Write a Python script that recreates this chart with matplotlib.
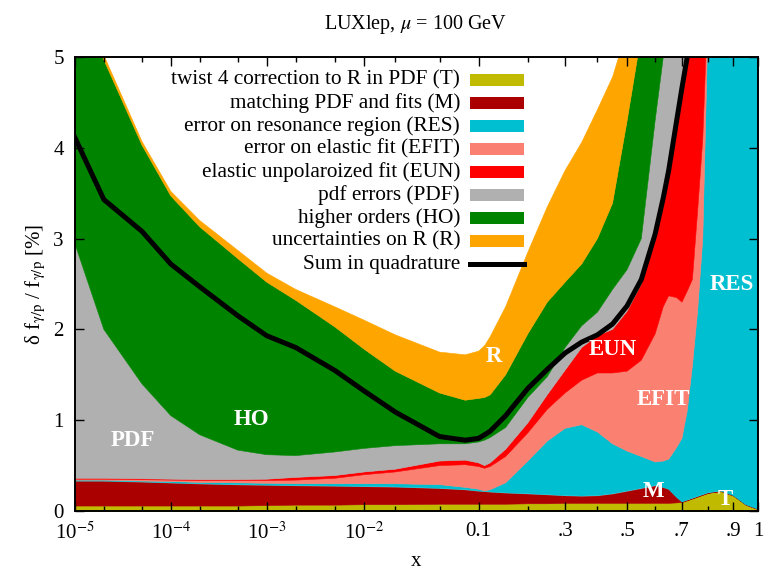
import numpy as np
import matplotlib
matplotlib.use("Agg")
import matplotlib.pyplot as plt
from matplotlib.patches import Rectangle
from matplotlib.lines import Line2D

plt.rcParams['font.family'] = ['Liberation Serif', 'DejaVu Serif']
plt.rcParams['mathtext.fontset'] = 'stix'

# x grid (log at small x, stretched towards x -> 1)
x = [1e-5, 2e-5, 5e-5, 1e-4, 2e-4, 5e-4, 1e-3, 2e-3, 5e-3, 1e-2, 2e-2, 5e-2,
     0.08, 0.1, 0.11, 0.12, 0.15, 0.2, 0.25, 0.3, 0.35, 0.4, 0.45, 0.5, 0.55,
     0.6, 0.63, 0.65, 0.68, 0.7, 0.72, 0.74, 0.76, 0.78, 0.8, 0.85, 0.9, 0.95, 1.0]

# individual contributions [%], stacked from bottom to top
err_T = [0.06, 0.06, 0.06, 0.06, 0.06, 0.06, 0.065, 0.07, 0.07, 0.075, 0.075, 0.08,
         0.08, 0.08, 0.08, 0.08, 0.08, 0.085, 0.085, 0.09, 0.09, 0.09, 0.09, 0.09, 0.09,
         0.09, 0.09, 0.09, 0.095, 0.10, 0.12, 0.14, 0.16, 0.18, 0.20, 0.22, 0.17, 0.07, 0.02]
err_M = [0.27, 0.27, 0.26, 0.25, 0.24, 0.23, 0.22, 0.21, 0.205, 0.195, 0.19, 0.17,
         0.155, 0.14, 0.135, 0.13, 0.12, 0.105, 0.095, 0.08, 0.075, 0.08, 0.10, 0.13, 0.16,
         0.19, 0.17, 0.15, 0.055, 0.0, 0.0, 0.0, 0.0, 0.0, 0.0, 0.0, 0.0, 0.0, 0.0]
err_RES = [0.01, 0.01, 0.01, 0.015, 0.015, 0.02, 0.02, 0.02, 0.025, 0.03, 0.035, 0.04,
           0.025, 0.02, 0.005, 0.025, 0.11, 0.36, 0.59, 0.74, 0.785, 0.70, 0.55, 0.44, 0.35,
           0.26, 0.29, 0.33, 0.55, 0.70, 0.98, 1.46, 2.04, 2.82, 5.10, 6.28, 7.33, 7.93, 8.48]
err_EFIT = [0.01, 0.01, 0.015, 0.015, 0.02, 0.025, 0.03, 0.04, 0.06, 0.10, 0.13, 0.21,
            0.25, 0.25, 0.25, 0.255, 0.29, 0.31, 0.35, 0.39, 0.49, 0.65, 0.78, 0.88, 1.06,
            1.41, 1.70, 1.80, 1.65, 1.50, 1.32, 0.95, 1.10, 1.10, 0.30, 0.30, 0.30, 0.30, 0.30]
err_EUN = [0.01, 0.01, 0.01, 0.01, 0.01, 0.01, 0.015, 0.03, 0.03, 0.03, 0.03, 0.05,
           0.05, 0.04, 0.03, 0.04, 0.08, 0.11, 0.16, 0.25, 0.36, 0.41, 0.48, 0.66, 0.84,
           1.05, 1.15, 1.33, 1.90, 2.30, 2.58, 2.75, 2.30, 1.80, 0.60, 0.40, 0.40, 0.40, 0.40]
err_PDF = [2.58, 1.64, 1.045, 0.70, 0.495, 0.325, 0.27, 0.24, 0.26, 0.26, 0.26, 0.19,
           0.18, 0.23, 0.28, 0.28, 0.24, 0.28, 0.20, 0.25, 0.24, 0.26, 0.44, 0.46, 0.50,
           1.30, 1.60, 1.60, 1.35, 1.30, 1.20, 1.20, 1.20, 1.20, 1.20, 1.20, 1.20, 1.20, 1.20]
err_HO = [2.66, 2.97, 2.63, 2.42, 2.29, 2.11, 1.90, 1.71, 1.38, 1.09, 0.82, 0.56,
          0.48, 0.48, 0.47, 0.47, 0.58, 0.70, 0.82, 0.72, 0.68, 0.81, 0.95, 1.64, 2.25,
          1.60, 1.20, 1.10, 1.20, 1.10, 1.10, 1.10, 1.10, 1.10, 1.10, 1.10, 1.10, 1.10, 1.10]
err_R = [0.20, 0.05, 0.04, 0.05, 0.07, 0.09, 0.10, 0.12, 0.22, 0.32, 0.40, 0.45,
         0.50, 0.52, 0.57, 0.64, 0.75, 0.90, 1.05, 1.23, 1.34, 1.42, 1.39, 1.00, 0.75,
         0.90, 0.80, 0.80, 0.80, 0.80, 0.70, 0.70, 0.70, 0.70, 0.70, 0.70, 0.70, 0.70, 0.70]
quad_sum = [4.11, 3.43, 3.08, 2.72, 2.47, 2.15, 1.93, 1.80, 1.55, 1.32, 1.09, 0.82,
            0.78, 0.80, 0.84, 0.88, 1.05, 1.35, 1.56, 1.74, 1.86, 1.94, 2.06, 2.26, 2.55,
            3.05, 3.45, 3.75, 4.30, 4.66, 5.00, 5.30, 5.60, 5.90, 6.20, 7.00, 8.00, 8.50, 9.00]

bands = [err_T, err_M, err_RES, err_EFIT, err_EUN, err_PDF, err_HO, err_R]
names = ['twist 4 correction to R in PDF (T)', 'matching PDF and fits (M)',
         'error on resonance region (RES)', 'error on elastic fit (EFIT)',
         'elastic unpolaroized fit (EUN)', 'pdf errors (PDF)', 'higher orders (HO)',
         'uncertainties on R (R)']
colors = ['#c0bb00', '#aa0000', '#00bfd0', '#fa8072', '#ff0000', '#b0b0b0', '#008400', '#ffa500']

# band labels: text, x, y
tags = [('PDF', 4.0e-5, 0.78), ('HO', 6.9e-4, 1.01), ('R', 0.127, 1.70),
        ('EUN', 0.45, 1.78), ('EFIT', 0.63, 1.23), ('RES', 0.895, 2.50),
        ('M', 0.595, 0.21), ('T', 0.87, 0.13)]

K = 2.13
def fwd(v):
    v = np.asarray(v, dtype=float)
    with np.errstate(divide='ignore', invalid='ignore'):
        return np.log10(v) + K * v

_grid = np.logspace(-7, 0.2, 6000)
_fgrid = fwd(_grid)
def inv(u):
    return np.interp(u, _fgrid, _grid)

W, H = 766, 579
fig = plt.figure(figsize=(W / 100, H / 100), dpi=100)
ax = fig.add_axes([75 / W, 1 - 511 / H, (758 - 75) / W, (511 - 57) / H])
ax.set_xscale('function', functions=(fwd, inv))

ax.stackplot(x, *bands, colors=colors, linewidth=0.4, edgecolor='face')
ax.plot(x, quad_sum, color='black', lw=3.6, solid_joinstyle='round')

ax.set_xlim(1e-5, 1)
ax.set_ylim(0, 5)

major = [1e-5, 1e-4, 1e-3, 1e-2, 0.1, 0.3, 0.5, 0.7, 0.9, 1.0]
major_lab = ['10$^{-5}$', '10$^{-4}$', '10$^{-3}$', '10$^{-2}$', '0.1',
             '.3', '.5', '.7', '.9', '1']
minor = [2e-5, 5e-5, 2e-4, 5e-4, 2e-3, 5e-3, 2e-2, 5e-2, 0.2, 0.4, 0.6, 0.8]
ax.set_xticks(major)
ax.set_xticklabels(major_lab)
ax.set_xticks(minor, minor=True)
ax.set_yticks(range(6))
ax.tick_params(which='both', direction='in', top=True, right=True, width=1.0,
               labelsize=15)
ax.tick_params(which='major', length=6.5)
ax.tick_params(which='minor', length=3.6)
ax.tick_params(axis='x', pad=8)
ax.tick_params(axis='y', pad=8)
for s in ax.spines.values():
    s.set_linewidth(1.4)

for t, tx, ty in tags:
    ax.text(tx, ty, t, color='white', fontsize=16.5, fontweight='bold',
            ha='center', va='center')

# legend, drawn row by row in figure pixels
for i, (name, c) in enumerate(zip(names, colors)):
    yc = 80 + 23 * i
    fig.text(460 / W, 1 - yc / H, name, fontsize=15.3, ha='right', va='center')
    fig.patches.append(Rectangle((470 / W, 1 - (yc + 6) / H), 54 / W, 12 / H,
                                 transform=fig.transFigure, facecolor=c,
                                 edgecolor='none'))
yc = 80 + 23 * 8
fig.text(460 / W, 1 - yc / H, 'Sum in quadrature', fontsize=15.3, ha='right', va='center')
fig.lines.append(Line2D([470 / W, 524 / W], [1 - yc / H, 1 - yc / H],
                        transform=fig.transFigure, color='black', lw=3.6))

fig.text(416 / W, 1 - 25 / H, r'LUXlep, $\mu$ = 100 GeV', fontsize=14.5,
         ha='center', va='center')
ax.set_xlabel('x', fontsize=15, labelpad=6)
ax.set_ylabel(r'δ f$_{\mathrm{γ/p}}$ / f$_{\mathrm{γ/p}}$ [%]',
              fontsize=15, labelpad=4)

fig.savefig('out.png', dpi=100)
